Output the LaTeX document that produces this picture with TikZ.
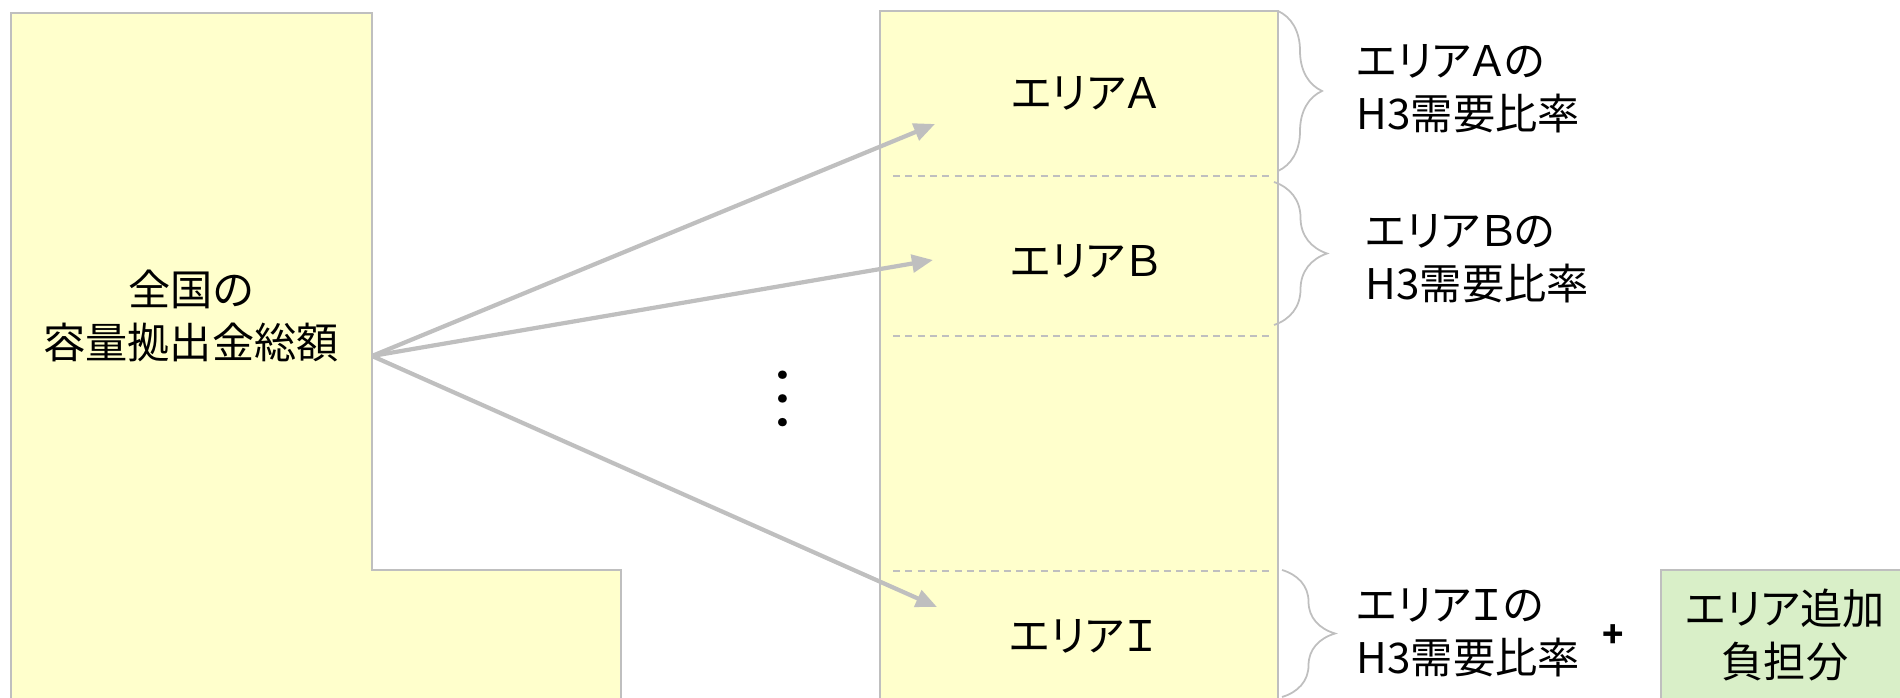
\documentclass[tikz,border=0pt]{standalone}
\usepackage{fontspec}
\setmainfont[RawFeature=+palt]{Noto Sans CJK JP}
\usetikzlibrary{arrows.meta,decorations.pathreplacing}
\definecolor{pale}{RGB}{255,255,204}
\definecolor{leaf}{RGB}{217,239,200}
\definecolor{rule}{RGB}{191,191,191}
\begin{document}
\begin{tikzpicture}[x=0.01cm, y=-0.01cm, font=\fontsize{12}{15}\selectfont,
    lbl/.style={align=center, inner sep=0pt},
    note/.style={align=left, anchor=west, inner sep=0pt},
    share/.style={draw=rule, line width=1.2pt, -{Triangle[length=6pt,width=5pt]}},
    brc/.style={draw=rule, line width=0.5pt, decorate, decoration={brace, amplitude=#1}},
    sep/.style={draw=rule, line width=0.4pt, dash pattern=on 2pt off 1.5pt}]
  \useasboundingbox (0,0) rectangle (1900,698);
  \clip (0,0) rectangle (1900,698);
  \draw[rule, line width=0.6pt, fill=pale] (11,13) -- (372,13) -- (372,570) -- (621,570) -- (621,720) -- (11,720) -- cycle;
  \node[lbl] (total) at (191,316) {全国の\\容量拠出金総額};
  \coordinate (src) at (372,356);
  \draw[rule, line width=0.6pt, fill=pale] (880,11) rectangle (1278,720);
  \draw[sep] (893,176) -- (1271,176);
  \draw[sep] (893,336) -- (1271,336);
  \draw[sep] (893,571) -- (1271,571);
  \node[lbl] (areaA) at (1085,93) {エリアＡ};
  \node[lbl] (areaB) at (1085,261) {エリアＢ};
  \node[lbl] (areaI) at (1083,636) {エリアＩ};
  \node[lbl, font=\fontsize{18}{18}\selectfont, rotate=90] (dots) at (783,400) {…};
  \coordinate (tipA) at (935,124);
  \coordinate (tipB) at (933,260);
  \coordinate (tipI) at (937,607);
  \draw[share] (src) -- (tipA);
  \draw[share] (src) -- (tipB);
  \draw[share] (src) -- (tipI);
  \draw[brc=0.44cm] (1278,11) -- (1278,171);
  \draw[brc=0.53cm] (1274,182) -- (1274,325);
  \draw[brc=0.53cm] (1282,570) -- (1282,697);
  \node[note] (ratioA) at (1356,89) {エリアＡの\\H3需要比率};
  \node[note] (ratioB) at (1365,259) {エリアＢの\\H3需要比率};
  \node[note] (ratioI) at (1356,633) {エリアＩの\\H3需要比率};
  \node[lbl, font=\fontsize{10}{10}\selectfont] (plus) at (1613,636) {\textbf{+}};
  \draw[rule, line width=0.6pt, fill=leaf] (1661,570) rectangle (1910,720);
  \node[lbl] (extra) at (1785,635) {エリア追加\\負担分};
\end{tikzpicture}
\end{document}
